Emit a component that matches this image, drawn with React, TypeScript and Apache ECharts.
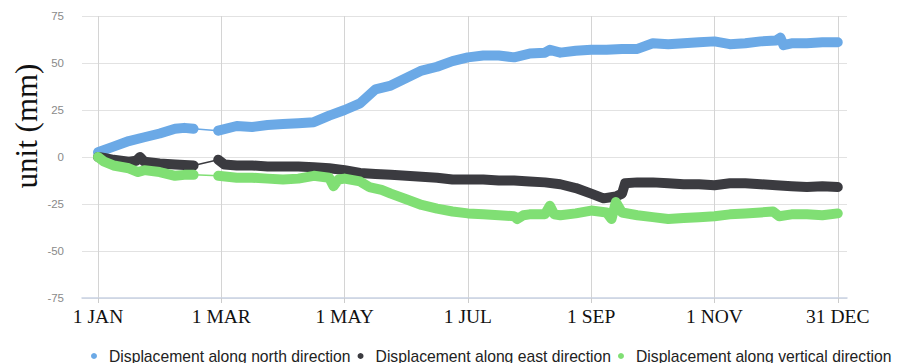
import React, { useEffect, useRef } from "react";
import * as echarts from "echarts";

// x positions are in months from 1 JAN (axis labels every 2 months)
const tickPositions = [0, 2, 4, 6, 8, 10, 12];
const tickLabels = ["1 JAN", "1 MAR", "1 MAY", "1 JUL", "1 SEP", "1 NOV", "31 DEC"];
const yTicks = [-75, -50, -25, 0, 25, 50, 75];

const seriesNames = [
  "Displacement along north direction",
  "Displacement along east direction",
  "Displacement along vertical direction",
];
const seriesColors = ["#6BA9E6", "#3B3B40", "#80DF74"];

// North – before the February gap
const northXA = [0, 0.25, 0.5, 0.75, 1.0, 1.25, 1.4, 1.55];
const northYA = [2.5, 5.5, 8.5, 10.5, 12.5, 15, 15.5, 15];
// North – after the gap
const northXB = [1.95, 2.25, 2.5, 2.75, 3.0, 3.25, 3.5, 3.75, 4.0, 4.25, 4.5, 4.75, 5.0, 5.25, 5.5, 5.75, 6.0, 6.25, 6.5, 6.75, 7.0, 7.25, 7.33, 7.5, 7.75, 8.0, 8.25, 8.5, 8.75, 9.0, 9.25, 9.5, 9.75, 10.0, 10.25, 10.5, 10.75, 11.0, 11.07, 11.12, 11.25, 11.5, 11.75, 12.0];
const northYB = [14, 16.5, 16, 17, 17.5, 18, 18.5, 22, 25, 28.5, 36, 38, 42, 46, 48, 51, 53, 54, 54, 53, 55, 55.5, 57, 55.5, 56.5, 57, 57, 57.5, 57.5, 60.5, 60, 60.5, 61, 61.5, 60, 60.5, 61.5, 62, 63.5, 59.5, 60.5, 60.5, 61, 61];

// East
const eastXA = [0, 0.1, 0.25, 0.5, 0.62, 0.68, 0.75, 1.0, 1.25, 1.55];
const eastYA = [0, -0.5, -1.5, -2.5, -2, 0, -2.5, -3.5, -4, -4.5];
const eastXB = [1.95, 2.05, 2.25, 2.5, 2.75, 3.0, 3.25, 3.5, 3.75, 4.0, 4.25, 4.5, 4.75, 5.0, 5.25, 5.5, 5.75, 6.0, 6.25, 6.5, 6.75, 7.0, 7.25, 7.5, 7.75, 8.0, 8.2, 8.4, 8.5, 8.55, 8.75, 9.0, 9.25, 9.5, 9.75, 10.0, 10.25, 10.5, 10.75, 11.0, 11.25, 11.5, 11.75, 12.0];
const eastYB = [-1.5, -4, -4.5, -4.5, -5, -5, -5, -5.5, -6, -7, -8.5, -9, -9.5, -10, -10.5, -11, -12, -12, -12, -12.5, -12.5, -13, -13.5, -14.5, -16.5, -19.5, -22, -21, -19.5, -14, -13.5, -13.5, -14, -14.5, -14.5, -15, -14, -14, -14.5, -15, -15.5, -16, -15.5, -16];

// Vertical
const vertXA = [0, 0.1, 0.25, 0.5, 0.65, 0.75, 1.0, 1.25, 1.4, 1.55];
const vertYA = [0, -2.5, -4.5, -6, -8, -7, -8, -10, -9.5, -9.5];
const vertXB = [1.95, 2.25, 2.5, 2.75, 3.0, 3.25, 3.5, 3.75, 3.82, 3.9, 4.0, 4.25, 4.4, 4.6, 4.75, 5.0, 5.25, 5.5, 5.75, 6.0, 6.25, 6.5, 6.75, 6.8, 6.9, 7.0, 7.25, 7.33, 7.4, 7.5, 7.75, 8.0, 8.25, 8.33, 8.4, 8.5, 8.75, 9.0, 9.25, 9.5, 9.75, 10.0, 10.25, 10.5, 10.75, 10.95, 11.05, 11.25, 11.5, 11.75, 12.0];
const vertYB = [-10, -11, -11, -11.5, -12, -11.5, -10, -11, -15.5, -12, -11.5, -13, -16, -17.5, -19.5, -22.5, -25.5, -27.5, -29, -30, -30.5, -31, -31.5, -33, -31, -30.5, -30.5, -26, -30.5, -31, -30, -28.5, -29.5, -33, -24, -29.5, -31, -32, -33, -32.5, -32, -31.5, -30.5, -30, -29.5, -29, -31.5, -30.5, -30.5, -31, -30];

const zip = (xs: number[], ys: number[]) => xs.map((x, i) => [x, ys[i]]);

export default function App() {
  const ref = useRef<HTMLDivElement>(null);
  useEffect(() => {
    if (!ref.current) return;
    const chart = echarts.init(ref.current, undefined, { renderer: "svg" });
    const groups = [
      [northXA, northYA, northXB, northYB],
      [eastXA, eastYA, eastXB, eastYB],
      [vertXA, vertYA, vertXB, vertYB],
    ];
    const series: any[] = [];
    groups.forEach((g, i) => {
      const [xa, ya, xb, yb] = g as number[][];
      const color = seriesColors[i];
      series.push({
        type: "line",
        name: seriesNames[i] + " gap",
        data: [
          [xa[xa.length - 1], ya[ya.length - 1]],
          [xb[0], yb[0]],
        ],
        symbol: "none",
        lineStyle: { color, width: 1.5 },
        itemStyle: { color },
        silent: true,
      });
      series.push({
        type: "line",
        name: seriesNames[i],
        data: [...zip(xa, ya), "-", ...zip(xb, yb)],
        connectNulls: false,
        symbol: "none",
        lineStyle: { color, width: 10, cap: "round", join: "round" },
        itemStyle: { color },
      });
    });
    chart.setOption({
      animation: false,
      grid: { left: 82, right: 51, top: 16, bottom: 65 },
      legend: {
        data: seriesNames,
        icon: "circle",
        itemWidth: 20,
        itemHeight: 6,
        itemGap: 7,
        left: 86,
        width: 812,
        top: 343,
        textStyle: { fontFamily: "Liberation Sans", fontSize: 15.7, color: "#222" },
      },
      xAxis: {
        type: "value",
        min: -0.26,
        max: 12.15,
        axisLine: { show: true, onZero: false, lineStyle: { color: "#c9d2e3", width: 1.5 } },
        axisTick: {
          show: true,
          customValues: tickPositions,
          length: 5,
          lineStyle: { color: "#cccccc" },
        },
        axisLabel: {
          customValues: tickPositions,
          formatter: (v: number) => tickLabels[tickPositions.indexOf(Math.round(v))] ?? "",
          fontFamily: "Liberation Serif",
          fontSize: 19.5,
          color: "#111",
          margin: 8,
        },
        splitLine: { show: true, lineStyle: { color: "#d4d4d4", width: 1 } },
      },
      yAxis: {
        type: "value",
        min: yTicks[0],
        max: yTicks[yTicks.length - 1],
        interval: 25,
        axisLine: { show: false },
        axisTick: { show: false },
        axisLabel: {
          fontFamily: "Liberation Sans",
          fontSize: 11.5,
          color: "#8a8a8a",
          margin: 18,
        },
        splitLine: { show: true, lineStyle: { color: "#e2e2e2", width: 1 } },
      },
      graphic: [
        {
          type: "text",
          x: 26,
          y: 126,
          rotation: Math.PI / 2,
          style: {
            text: "unit (mm)",
            fontFamily: "Liberation Serif",
            fontSize: 31,
            fill: "#111",
            align: "center",
            verticalAlign: "middle",
          },
        },
      ],
      series,
    });
    return () => chart.dispose();
  }, []);
  return <div ref={ref} style={{ width: 898, height: 363, position: "absolute", left: 0, top: 0 }} />;
}
